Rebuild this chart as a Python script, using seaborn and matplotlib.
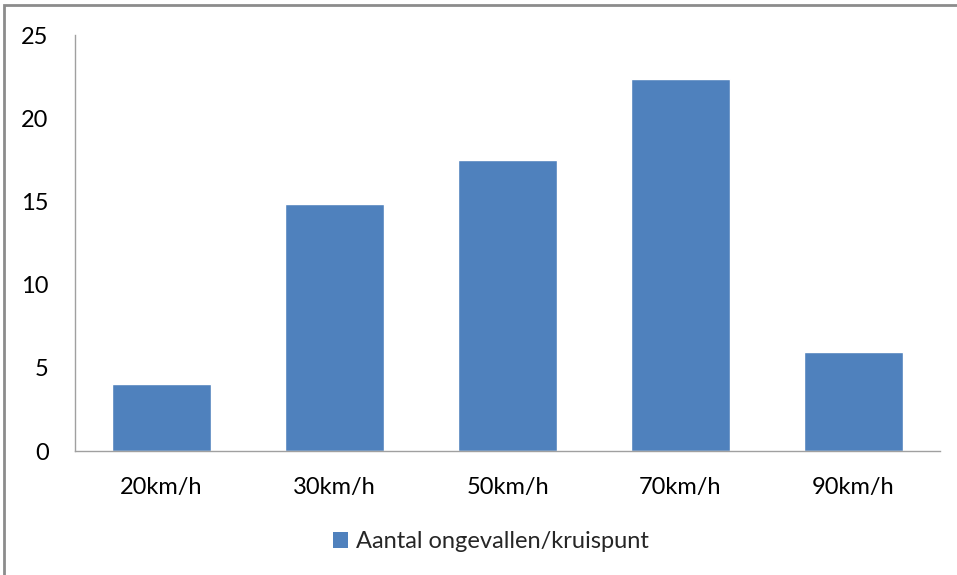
import matplotlib
matplotlib.use("Agg")
import matplotlib.pyplot as plt
from matplotlib.patches import Rectangle
import seaborn as sns
import pandas as pd

categories = ["20km/h", "30km/h", "50km/h", "70km/h", "90km/h"]
values = [4.0, 14.85, 17.5, 22.35, 5.95]
series_name = "Aantal ongevallen/kruispunt"
y_ticks = [0, 5, 10, 15, 20, 25]

bar_color = "#4F81BD"

sns.set_theme(style="white")
plt.rcParams["font.family"] = ["Lato", "DejaVu Sans"]

df = pd.DataFrame({"snelheid": categories, "waarde": values, "reeks": series_name})

W, H = 957, 575
fig = plt.figure(figsize=(W / 100, H / 100), dpi=100)
ax = fig.add_axes([75 / W, 1 - 451 / H, 865 / W, 416 / H])

sns.barplot(data=df, x="snelheid", y="waarde", hue="reeks", palette=[bar_color],
            width=0.567, ax=ax, legend=False, saturation=1)

ax.set_xlim(-0.5, 4.5)
ax.set_ylim(0, 25)
ax.set_yticks(y_ticks)
ax.set_yticklabels([str(t) for t in y_ticks])
ax.set_xlabel("")
ax.set_ylabel("")
ax.tick_params(axis="both", length=0, labelsize=17, colors="#000000")
ax.tick_params(axis="y", pad=19)
ax.tick_params(axis="x", pad=19)

for side in ("top", "right"):
    ax.spines[side].set_visible(False)
for side in ("left", "bottom"):
    ax.spines[side].set_color("#A0A0A0")
    ax.spines[side].set_linewidth(1.0)

# legend below the plot area
handle = Rectangle((0, 0), 1, 1, facecolor=bar_color, edgecolor="none")
fig.legend([handle], [series_name], loc="center", bbox_to_anchor=(491 / W, 1 - 542 / H),
           frameon=False, fontsize=17, handlelength=0.65, handleheight=0.65,
           handletextpad=0.35)

# outer chart border
fig.patches.append(Rectangle((4 / W, -0.05), 1.1, 1 - 4.5 / H + 0.05,
                             transform=fig.transFigure, fill=False,
                             edgecolor="#8C8C8C", linewidth=2.0))

fig.savefig("out.png", dpi=100)
